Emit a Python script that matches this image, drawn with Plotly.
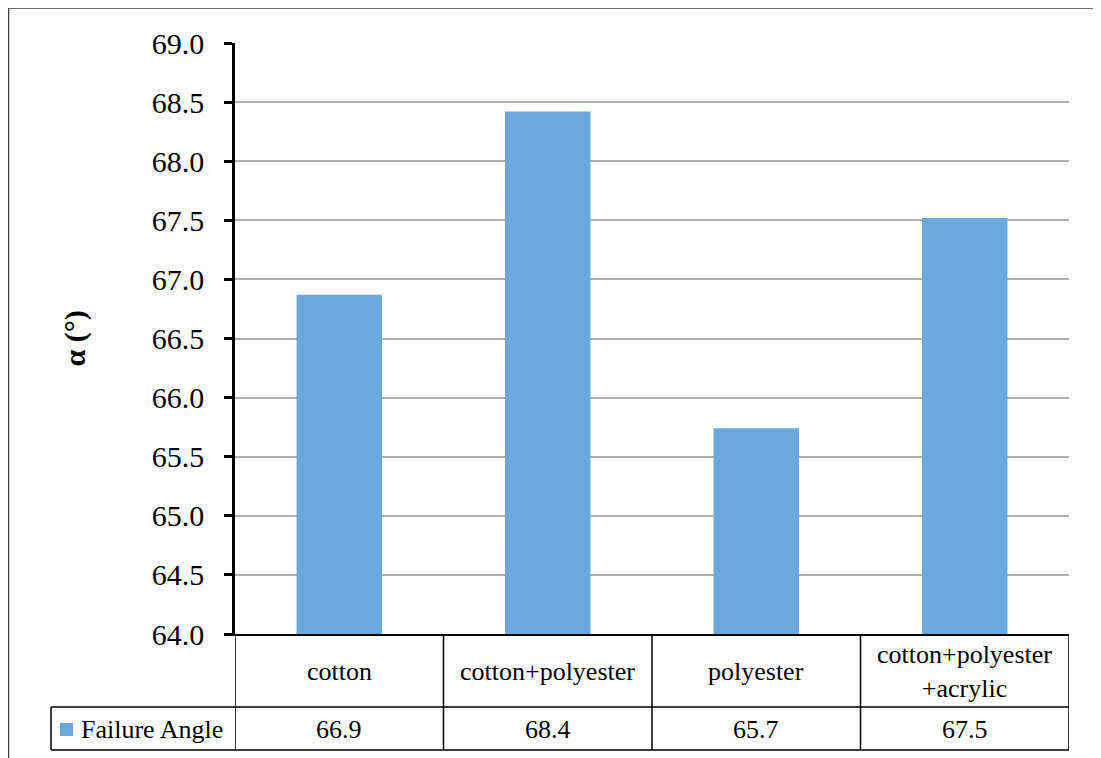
import plotly.graph_objects as go

categories = ["cotton", "cotton+polyester", "polyester", "cotton+polyester<br>+acrylic"]
failure_angle = [66.87, 68.42, 65.74, 67.52]
series_name = "Failure Angle"
y_title = "α (°)"
y_range = [64.0, 69.0]
y_step = 0.5

OFF = 8  # page body margin
W, H = 1101 - OFF, 758 - OFF
L, R, T, B = 235, 1069, 43, 634  # plot area in screen pixels


def px(x):
    return (x - L) / (R - L)


def py(y):
    return (B - y) / (B - T)


FONT = "Liberation Serif"
BAR_COLOR = "#6AA9DF"

fig = go.Figure()
xs = list(range(len(categories)))
fig.add_trace(go.Bar(
    x=xs, y=failure_angle,
    marker=dict(color=BAR_COLOR, line=dict(width=0)),
    name=series_name, showlegend=False,
))

shapes = []
annotations = []

# outer chart border (only top and left edges are visible in the frame)
border = dict(color="#404040", width=1.5)
shapes.append(dict(type="line", xref="paper", yref="paper",
                   x0=px(8.5), x1=px(1300), y0=py(8), y1=py(8), line=border, layer="below"))
shapes.append(dict(type="line", xref="paper", yref="paper",
                   x0=px(8.5), x1=px(8.5), y0=py(8), y1=py(900), line=border, layer="below"))

# table lines
line_style = dict(color="black", width=1.5)
for i in range(len(categories) + 1):
    shapes.append(dict(type="line", xref="x", yref="paper",
                       x0=i - 0.5, x1=i - 0.5, y0=0, y1=py(750),
                       line=line_style))
shapes.append(dict(type="line", xref="paper", yref="paper",
                   x0=px(51), x1=1, y0=py(707), y1=py(707), line=line_style))
shapes.append(dict(type="line", xref="paper", yref="paper",
                   x0=px(51), x1=1, y0=py(750), y1=py(750), line=line_style))
shapes.append(dict(type="line", xref="paper", yref="paper",
                   x0=px(51), x1=px(51), y0=py(707), y1=py(750), line=line_style))

# legend key square
shapes.append(dict(type="rect", xref="paper", yref="paper",
                   x0=px(60), x1=px(73), y0=py(736), y1=py(723),
                   line=dict(width=0), fillcolor=BAR_COLOR))
annotations.append(dict(text=series_name, xref="paper", yref="paper",
                        x=px(79), y=py(729), xanchor="left", yanchor="middle",
                        showarrow=False, font=dict(family=FONT, size=26, color="black")))

for i, (c, v) in enumerate(zip(categories, failure_angle)):
    annotations.append(dict(text=c, xref="x", yref="paper", x=i, y=py(671),
                            xanchor="center", yanchor="middle", showarrow=False,
                            font=dict(family=FONT, size=26, color="black")))
    annotations.append(dict(text=f"{v:.1f}", xref="x", yref="paper", x=i, y=py(729),
                            xanchor="center", yanchor="middle", showarrow=False,
                            font=dict(family=FONT, size=26, color="black")))

# y-axis title
annotations.append(dict(text=f"<b>{y_title}</b>", xref="paper", yref="paper",
                        x=px(74), y=0.5, textangle=-90, xanchor="center", yanchor="middle",
                        showarrow=False, font=dict(family=FONT, size=30, color="black")))

fig.update_layout(
    width=W, height=H,
    margin=dict(l=L - OFF, r=W - (R - OFF), t=T - OFF, b=H - (B - OFF)),
    paper_bgcolor="white", plot_bgcolor="white",
    bargap=0.59,
    shapes=shapes, annotations=annotations,
    font=dict(family=FONT, color="black"),
    xaxis=dict(range=[-0.5, len(categories) - 0.5], showticklabels=False, ticks="",
               showgrid=False, zeroline=False, showline=True, linecolor="black", linewidth=1.5),
    yaxis=dict(range=y_range, dtick=y_step, tick0=y_range[0], tickformat=".1f",
               showgrid=True, gridcolor="#B0B0B0", gridwidth=1.5,
               showline=True, linecolor="black", linewidth=2.5,
               ticks="outside", ticklen=8, tickwidth=2.5, tickcolor="black",
               ticklabelstandoff=14, zeroline=False,
               tickfont=dict(family=FONT, size=30, color="black")),
)

fig.write_html("out.html")
